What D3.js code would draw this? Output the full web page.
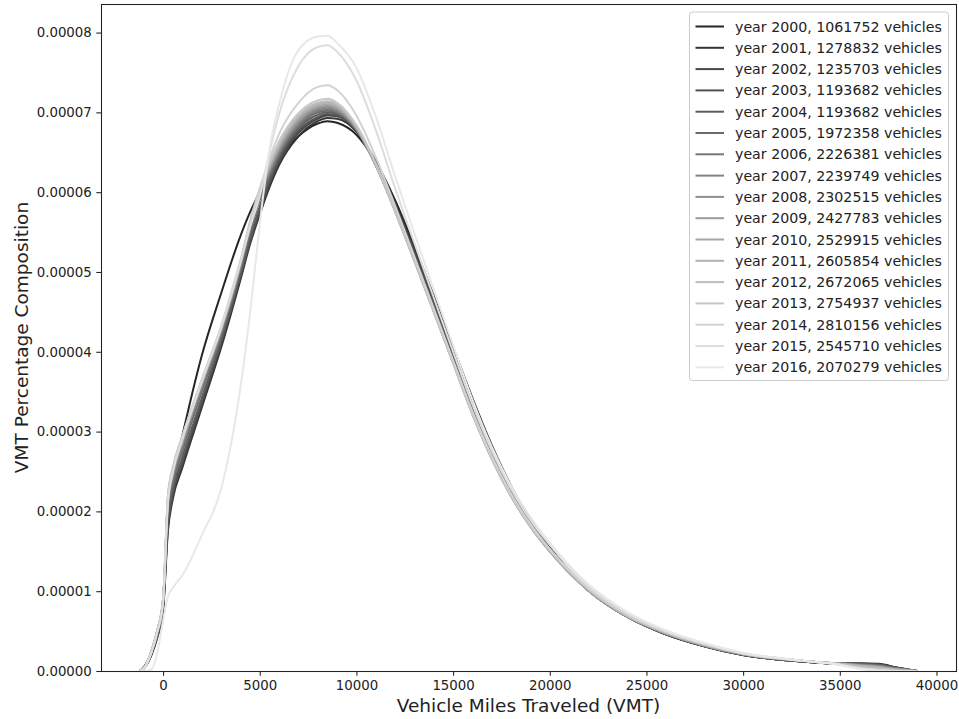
<!DOCTYPE html>
<html>
<head>
<meta charset="utf-8">
<script src="https://cdn.jsdelivr.net/npm/d3@7"></script>
<style>
  body { margin: 0; background: #fff; }
  text { font-family: "DejaVu Sans", sans-serif; }
</style>
</head>
<body>
<svg id="chart" width="959" height="719"></svg>
<script>
// VMT grid shared by all curves
const vmt = [-1200, -900, -600, -300, 0, 250, 500, 1000, 2000, 3000, 4000, 4500, 5000, 5500, 6000,
  7000, 8000, 8500, 9000, 10000, 11000, 12000, 13000, 14000, 15000, 16000, 17000, 18000, 19000,
  20000, 22000, 24000, 26000, 28000, 30000, 33000, 35000, 36000, 37000, 38000, 39000];

// density values, in units of 1e-6
const y2000 = [0, 0.8, 2.3, 4.6, 9.0, 19.5, 24.0, 29.5, 39.5, 47.3, 54.5, 57.5, 60.0, 62.3, 64.2, 67.0, 68.6, 68.9, 68.7, 67.2, 63.8, 59.0, 53.2, 47.0, 40.6, 34.2, 28.3, 23.2, 19.0, 15.5, 10.2, 6.8, 4.6, 3.1, 2.0, 1.2, 0.9, 0.95, 0.9, 0.4, 0];
const y2001 = [0, 0.6, 2.0, 4.2, 7.5, 17.5, 21.5, 25.5, 33.0, 40.5, 49.0, 53.5, 57.2, 60.6, 63.4, 67.0, 68.9, 69.3, 69.2, 67.6, 63.8, 58.7, 52.8, 46.6, 40.1, 33.7, 27.9, 22.9, 18.8, 15.4, 10.2, 6.8, 4.6, 3.1, 2.0, 1.2, 0.9, 0.95, 0.85, 0.4, 0];
const y2002 = [0, 0.6, 2.1, 4.3, 7.8, 18.0, 22.0, 26.0, 33.5, 41.0, 49.3, 53.8, 57.5, 61.0, 63.8, 67.4, 69.2, 69.6, 69.5, 67.7, 63.7, 58.5, 52.5, 46.3, 39.8, 33.4, 27.6, 22.7, 18.6, 15.3, 10.1, 6.8, 4.6, 3.1, 2.0, 1.2, 0.9, 0.9, 0.8, 0.35, 0];
const y2003 = [0, 0.6, 2.1, 4.4, 8.0, 18.3, 22.3, 26.3, 33.8, 41.2, 49.5, 54.0, 57.8, 61.3, 64.1, 67.7, 69.4, 69.8, 69.6, 67.8, 63.6, 58.3, 52.3, 46.0, 39.6, 33.2, 27.4, 22.5, 18.5, 15.2, 10.1, 6.8, 4.6, 3.1, 2.0, 1.2, 0.9, 0.9, 0.8, 0.35, 0];
const y2004 = [0, 0.6, 2.2, 4.5, 8.1, 18.8, 22.8, 26.8, 34.2, 41.5, 49.8, 54.3, 58.2, 61.6, 64.4, 68.0, 69.7, 70.0, 69.8, 67.8, 63.5, 58.1, 52.0, 45.7, 39.3, 33.0, 27.2, 22.4, 18.4, 15.2, 10.1, 6.8, 4.7, 3.1, 2.0, 1.2, 0.9, 0.85, 0.75, 0.3, 0];
const y2005 = [0, 0.7, 2.3, 4.7, 8.3, 20.0, 23.5, 27.5, 35.0, 42.0, 50.3, 55.0, 59.0, 62.0, 64.6, 68.2, 70.0, 70.2, 69.9, 67.8, 63.4, 57.9, 51.8, 45.5, 39.0, 32.7, 27.0, 22.2, 18.3, 15.1, 10.1, 6.8, 4.7, 3.2, 2.1, 1.3, 0.9, 0.8, 0.7, 0.3, 0];
const y2006 = [0, 0.7, 2.4, 4.8, 8.5, 20.5, 24.0, 28.0, 35.4, 42.3, 50.5, 55.3, 59.3, 62.3, 64.9, 68.4, 70.2, 70.4, 70.1, 67.9, 63.4, 57.8, 51.7, 45.3, 38.9, 32.5, 26.9, 22.1, 18.2, 15.1, 10.1, 6.8, 4.7, 3.2, 2.1, 1.3, 0.9, 0.8, 0.65, 0.3, 0];
const y2007 = [0, 0.7, 2.4, 4.9, 8.6, 20.8, 24.3, 28.3, 35.6, 42.5, 50.7, 55.5, 59.5, 62.5, 65.1, 68.6, 70.3, 70.5, 70.2, 67.9, 63.4, 57.8, 51.6, 45.3, 38.8, 32.4, 26.8, 22.0, 18.2, 15.1, 10.1, 6.8, 4.7, 3.2, 2.1, 1.3, 0.9, 0.75, 0.6, 0.25, 0];
const y2008 = [0, 0.7, 2.4, 4.9, 8.7, 21.0, 24.5, 28.5, 35.8, 42.6, 50.8, 55.7, 59.7, 62.7, 65.3, 68.8, 70.5, 70.7, 70.4, 68.0, 63.4, 57.7, 51.5, 45.2, 38.7, 32.3, 26.7, 22.0, 18.1, 15.0, 10.1, 6.8, 4.7, 3.2, 2.1, 1.3, 0.9, 0.75, 0.55, 0.25, 0];
const y2009 = [0, 0.7, 2.5, 5.0, 8.8, 21.2, 24.7, 28.7, 36.0, 42.7, 50.9, 55.8, 59.9, 62.9, 65.5, 69.0, 70.7, 70.9, 70.5, 68.0, 63.4, 57.7, 51.5, 45.1, 38.7, 32.3, 26.7, 21.9, 18.1, 15.0, 10.1, 6.8, 4.7, 3.2, 2.1, 1.3, 0.9, 0.7, 0.5, 0.2, 0];
const y2010 = [0, 0.7, 2.5, 5.0, 8.9, 21.4, 24.9, 28.9, 36.1, 42.8, 51.0, 56.0, 60.0, 63.1, 65.7, 69.2, 70.8, 71.0, 70.6, 68.1, 63.4, 57.6, 51.4, 45.1, 38.6, 32.2, 26.6, 21.9, 18.1, 15.0, 10.1, 6.9, 4.8, 3.2, 2.1, 1.3, 0.9, 0.7, 0.5, 0.2, 0];
const y2011 = [0, 0.7, 2.5, 5.1, 9.0, 21.6, 25.1, 29.1, 36.3, 42.9, 51.1, 56.1, 60.2, 63.3, 65.9, 69.4, 71.0, 71.2, 70.8, 68.2, 63.5, 57.6, 51.4, 45.0, 38.6, 32.2, 26.6, 21.9, 18.1, 15.0, 10.2, 6.9, 4.8, 3.3, 2.2, 1.3, 0.9, 0.65, 0.45, 0.15, 0];
const y2012 = [0, 0.7, 2.6, 5.1, 9.0, 21.8, 25.3, 29.3, 36.4, 43.0, 51.2, 56.2, 60.3, 63.5, 66.1, 69.6, 71.2, 71.4, 71.0, 68.3, 63.5, 57.6, 51.4, 45.0, 38.6, 32.2, 26.6, 21.9, 18.1, 15.1, 10.2, 6.9, 4.8, 3.3, 2.2, 1.3, 0.85, 0.6, 0.4, 0.1, 0];
const y2013 = [0, 0.6, 2.5, 5.0, 9.0, 22.0, 25.5, 29.5, 36.5, 43.1, 51.3, 56.4, 60.5, 63.8, 66.4, 69.9, 71.5, 71.7, 71.2, 68.4, 63.6, 57.7, 51.5, 45.1, 38.7, 32.3, 26.7, 22.0, 18.2, 15.2, 10.3, 7.0, 4.9, 3.4, 2.2, 1.3, 0.8, 0.4, 0.15, 0, 0];
const y2014 = [0, 0.6, 2.4, 4.9, 8.8, 21.5, 25.2, 29.3, 36.5, 43.2, 51.5, 56.0, 60.3, 64.2, 67.3, 71.2, 73.2, 73.4, 72.8, 69.6, 64.4, 58.3, 51.9, 45.4, 38.9, 32.5, 26.9, 22.2, 18.4, 15.3, 10.4, 7.1, 4.9, 3.4, 2.2, 1.3, 0.8, 0.35, 0.1, 0, 0];
const y2015 = [0, 0.6, 2.3, 4.8, 8.6, 21.0, 24.8, 29.0, 36.2, 43.0, 51.2, 55.6, 59.5, 65.0, 69.8, 75.8, 78.2, 78.4, 77.6, 74.0, 67.8, 60.5, 53.6, 46.8, 40.0, 33.4, 27.6, 22.8, 18.9, 15.8, 10.7, 7.3, 5.0, 3.4, 2.2, 1.3, 0.8, 0.3, 0.1, 0, 0];
const y2016 = [0, 0, 0.2, 2.3, 6.3, 9.3, 10.4, 12.0, 17.0, 22.8, 35.5, 44.8, 56.0, 65.3, 71.0, 77.8, 79.5, 79.6, 78.7, 75.6, 69.5, 62.0, 54.8, 47.8, 40.8, 34.0, 28.1, 23.2, 19.3, 16.1, 10.9, 7.4, 5.1, 3.5, 2.3, 1.3, 0.8, 0.3, 0.05, 0, 0];

const years = [2000, 2001, 2002, 2003, 2004, 2005, 2006, 2007, 2008, 2009, 2010, 2011, 2012, 2013, 2014, 2015, 2016];
const vehicles = [1061752, 1278832, 1235703, 1193682, 1193682, 1972358, 2226381, 2239749, 2302515, 2427783,
  2529915, 2605854, 2672065, 2754937, 2810156, 2545710, 2070279];
const densities = [y2000, y2001, y2002, y2003, y2004, y2005, y2006, y2007, y2008, y2009, y2010, y2011, y2012, y2013, y2014, y2015, y2016];

const xTicks = [0, 5000, 10000, 15000, 20000, 25000, 30000, 35000, 40000];
const yTicks = [0, 10, 20, 30, 40, 50, 60, 70, 80];   // x 1e-6

const lineColors = ["#262626", "#363636", "#474747", "#525252", "#5e5e5e", "#6b6b6b", "#777777", "#838383", "#8f8f8f",
  "#9b9b9b", "#a6a6a6", "#b1b1b1", "#bcbcbc", "#c7c7c7", "#d2d2d2", "#dddddd", "#e8e8e8"];

const series = years.map((yr, i) => ({
  year: yr,
  label: `year ${yr}, ${vehicles[i]} vehicles`,
  color: lineColors[i],
  points: vmt.map((v, j) => ({ x: v, y: densities[i][j] }))
}));

const svg = d3.select("#chart");
const margin = { top: 4, right: 3, bottom: 48, left: 101 };
const width = svg.attr("width") - margin.left - margin.right;
const height = svg.attr("height") - margin.top - margin.bottom;

const g = svg.append("g")
    .attr("transform", `translate(${margin.left}, ${margin.top})`);

// scales, with matplotlib-like 5% margins
const xExt = d3.extent(vmt);
const xPad = (xExt[1] - xExt[0]) * 0.05;
const xScale = d3.scaleLinear()
    .domain([xExt[0] - xPad, xExt[1] + xPad])
    .range([0, width]);

const yMax = d3.max(densities, d => d3.max(d));
const yScale = d3.scaleLinear()
    .domain([0, yMax * 1.05])
    .range([height, 0]);

// curves
const line = d3.line()
    .x(d => xScale(d.x))
    .y(d => yScale(d.y))
    .curve(d3.curveMonotoneX);

g.selectAll(".kde")
    .data(series)
    .enter()
    .append("path")
    .attr("class", "kde")
    .attr("d", d => line(d.points))
    .attr("fill", "none")
    .attr("stroke", d => d.color)
    .attr("stroke-width", 2);

// axes
const xAxis = d3.axisBottom(xScale).tickValues(xTicks).tickSize(4.7).tickPadding(4).tickSizeOuter(0)
    .tickFormat(d3.format("d"));
const gx = g.append("g")
    .attr("transform", `translate(0, ${height})`)
    .call(xAxis);

const yAxis = d3.axisLeft(yScale).tickValues(yTicks).tickSize(4.7).tickPadding(4.5).tickSizeOuter(0)
    .tickFormat(d => (d * 1e-6).toFixed(5));
const gy = g.append("g")
    .call(yAxis);

[gx, gy].forEach(a => {
  a.select(".domain").remove();
  a.selectAll(".tick line").attr("stroke", "#222").attr("stroke-width", 1.07);
  a.selectAll(".tick text")
      .attr("fill", "#222")
      .style("font-family", "DejaVu Sans")
      .style("font-size", "13.33px");
});
gx.selectAll(".tick text").attr("dy", "0.76em");

// frame
g.append("rect")
    .attr("x", 0.5)
    .attr("y", 0.5)
    .attr("width", width)
    .attr("height", height)
    .attr("fill", "none")
    .attr("stroke", "#222")
    .attr("stroke-width", 1.07);

// axis labels
svg.append("text")
    .attr("x", margin.left + width / 2)
    .attr("y", 712)
    .attr("text-anchor", "middle")
    .attr("fill", "#222")
    .style("font-size", "18.5px")
    .text("Vehicle Miles Traveled (VMT)");

svg.append("text")
    .attr("transform", `translate(28, ${margin.top + height / 2}) rotate(-90)`)
    .attr("text-anchor", "middle")
    .attr("fill", "#222")
    .style("font-size", "18.5px")
    .text("VMT Percentage Composition");

// legend
const legendX = 689.5, legendY = 12, rowH = 21.3;
const legend = svg.append("g");
legend.append("rect")
    .attr("x", legendX)
    .attr("y", legendY)
    .attr("width", 259)
    .attr("height", 368.5)
    .attr("rx", 2.8)
    .attr("fill", "#fff")
    .attr("fill-opacity", 0.8)
    .attr("stroke", "#cccccc")
    .attr("stroke-width", 1);

const rows = legend.selectAll(".row")
    .data(series)
    .enter()
    .append("g")
    .attr("class", "row")
    .attr("transform", (d, i) => `translate(0, ${legendY + 14.5 + i * rowH})`);

rows.append("line")
    .attr("x1", 695.5)
    .attr("x2", 724)
    .attr("stroke", d => d.color)
    .attr("stroke-width", 2);

rows.append("text")
    .attr("x", 735)
    .attr("y", 5)
    .attr("fill", "#222")
    .style("font-size", "14.2px")
    .text(d => d.label);
</script>
</body>
</html>
